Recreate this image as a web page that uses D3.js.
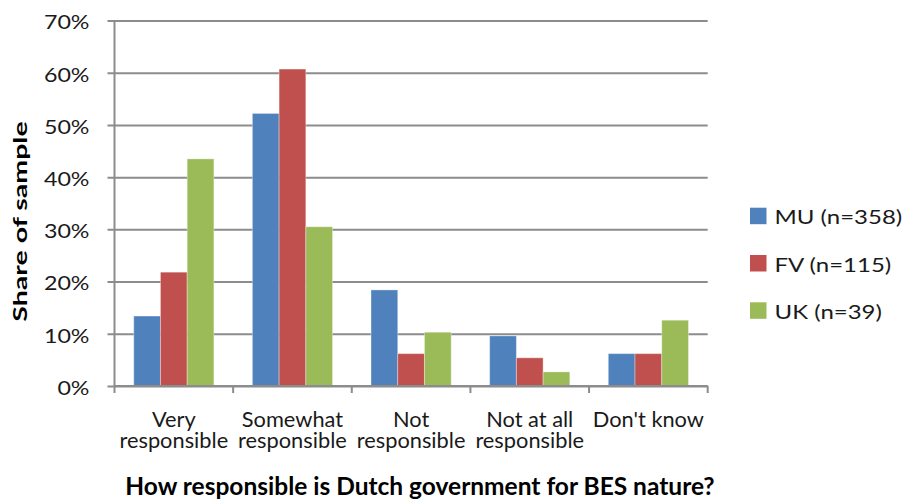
<!DOCTYPE html>
<html>
<head>
<meta charset="utf-8">
<script src="https://cdn.jsdelivr.net/npm/d3@7"></script>
<style>
  html, body { margin: 0; padding: 0; background: #fff; }
  svg { display: block; font-family: Lato, "Open Sans", sans-serif; }
</style>
</head>
<body>
<svg id="chart" width="904" height="502"></svg>
<script>
// Survey answers: share of each sample per response category
const categories = [
  ["Very", "responsible"],
  ["Somewhat", "responsible"],
  ["Not", "responsible"],
  ["Not at all", "responsible"],
  ["Don't know"]
];
const seriesNames = ["MU (n=358)", "FV (n=115)", "UK (n=39)"];
const muValues = [0.134, 0.522, 0.184, 0.096, 0.062];
const fvValues = [0.218, 0.607, 0.062, 0.054, 0.062];
const ukValues = [0.435, 0.305, 0.103, 0.027, 0.126];
const seriesColors = ["#4F81BD", "#C0504D", "#9BBB59"];
const yTicks = [0, 0.1, 0.2, 0.3, 0.4, 0.5, 0.6, 0.7];
const xTitle = "How responsible is Dutch government for BES nature?";
const yTitle = "Share of sample";

const seriesValues = [muValues, fvValues, ukValues];

const svg = d3.select("#chart");
const plot = { left: 114.5, right: 707.7, top: 20.5, bottom: 386 };
const gridColor = "#8c8c8c";

const x = d3.scaleBand()
  .domain(d3.range(categories.length))
  .range([plot.left, plot.right])
  .paddingInner(0).paddingOuter(0);

const xs = d3.scaleBand()
  .domain(d3.range(seriesNames.length))
  .range([0, x.bandwidth()])
  .paddingInner(0).paddingOuter(0.72);

const y = d3.scaleLinear().domain([0, 0.7]).range([plot.bottom, plot.top]);

// Horizontal gridlines with tick marks on the left axis
const yAxis = d3.axisLeft(y)
  .tickValues(yTicks)
  .tickSize(-(plot.right - plot.left))
  .tickFormat("");
const gy = svg.append("g")
  .attr("transform", `translate(${plot.left},0)`)
  .call(yAxis);
gy.select(".domain").remove();
gy.selectAll(".tick line")
  .attr("x1", -7)
  .attr("stroke", gridColor)
  .attr("stroke-width", 2);

// Left axis line
svg.append("line")
  .attr("x1", plot.left).attr("x2", plot.left)
  .attr("y1", plot.top).attr("y2", plot.bottom)
  .attr("stroke", gridColor).attr("stroke-width", 2);

// Tick labels on the value axis (slightly widened)
const tickScaleX = 1.25;
svg.append("g").selectAll("g")
  .data(yTicks)
  .join("g")
  .attr("transform", d => `translate(89.5,${y(d) + 8.8}) scale(${tickScaleX},1)`)
  .append("text")
  .attr("text-anchor", "end")
  .attr("font-size", 18.6)
  .attr("fill", "#1a1a1a")
  .text(d => d3.format(".0%")(d));

// Bars
const groups = svg.append("g").selectAll("g")
  .data(categories.map((c, i) => i))
  .join("g")
  .attr("transform", i => `translate(${x(i)},0)`);

groups.selectAll("rect")
  .data(i => seriesValues.map((vals, s) => ({ s, v: vals[i] })))
  .join("rect")
  .attr("x", d => xs(d.s))
  .attr("width", xs.bandwidth())
  .attr("y", d => y(d.v))
  .attr("height", d => y(0) - y(d.v))
  .attr("fill", (d) => seriesColors[d.s])
  .attr("stroke", "#ffffff")
  .attr("stroke-opacity", 0.35)
  .attr("stroke-width", 1);

// Category axis with tick marks between groups
svg.append("line")
  .attr("x1", plot.left).attr("x2", plot.right)
  .attr("y1", plot.bottom).attr("y2", plot.bottom)
  .attr("stroke", gridColor).attr("stroke-width", 2);
const boundaries = d3.range(categories.length + 1).map(i =>
  i < categories.length ? x(i) : plot.right);
svg.append("g").selectAll("line")
  .data(boundaries)
  .join("line")
  .attr("x1", d => d).attr("x2", d => d)
  .attr("y1", plot.bottom).attr("y2", plot.bottom + 7)
  .attr("stroke", gridColor).attr("stroke-width", 2);

// Category labels (one or two lines)
const lineBaselines = [426.7, 448.3];
const catLabels = svg.append("g").selectAll("text")
  .data(categories.map((lines, i) => ({ lines, i })))
  .join("text")
  .attr("text-anchor", "middle")
  .attr("font-size", 21.8)
  .attr("fill", "#1a1a1a");
catLabels.selectAll("tspan")
  .data(d => d.lines.map((t, j) => ({ t, j, i: d.i })))
  .join("tspan")
  .attr("x", d => x(d.i) + x.bandwidth() / 2)
  .attr("y", d => lineBaselines[d.j])
  .text(d => d.t);

// Axis titles
svg.append("text")
  .attr("x", 420).attr("y", 495)
  .attr("text-anchor", "middle")
  .attr("font-size", 24.5)
  .attr("font-weight", "bold")
  .attr("fill", "#000")
  .text(xTitle);

svg.append("g")
  .attr("transform", "translate(26.5,221.5) rotate(-90) scale(1.5,1)")
  .append("text")
  .attr("text-anchor", "middle")
  .attr("font-size", 19)
  .attr("font-weight", "bold")
  .attr("fill", "#000")
  .text(yTitle);

// Legend
const legend = svg.append("g").selectAll("g")
  .data(seriesNames)
  .join("g")
  .attr("transform", (d, i) => `translate(750,${207.7 + i * 47.3})`);
legend.append("rect")
  .attr("width", 16.5).attr("height", 16.5)
  .attr("fill", (d, i) => seriesColors[i]);
legend.append("g")
  .attr("transform", "translate(24.5,16.6) scale(1.2,1)")
  .append("text")
  .attr("font-size", 20)
  .attr("fill", "#1a1a1a")
  .text(d => d);
</script>
</body>
</html>
